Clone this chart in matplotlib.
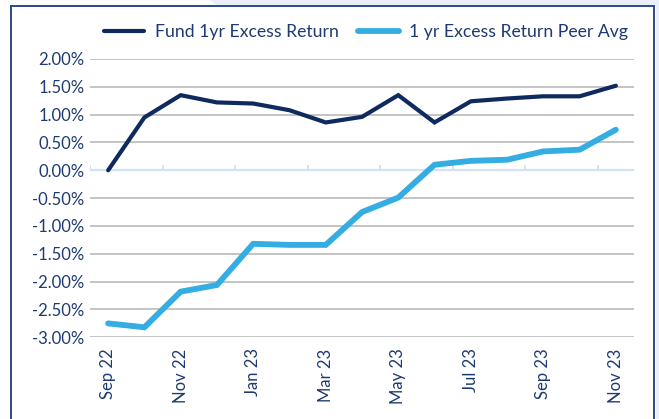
import matplotlib
matplotlib.use("Agg")
import matplotlib.pyplot as plt
from matplotlib.patches import Polygon, Rectangle
import numpy as np

months = ["Sep 22", "Oct 22", "Nov 22", "Dec 22", "Jan 23", "Feb 23", "Mar 23", "Apr 23",
          "May 23", "Jun 23", "Jul 23", "Aug 23", "Sep 23", "Oct 23", "Nov 23"]
fund = [0.00, 0.95, 1.35, 1.22, 1.20, 1.08, 0.86, 0.96, 1.35, 0.86, 1.24, 1.29, 1.33, 1.33, 1.52]
peer = [-2.75, -2.82, -2.18, -2.06, -1.32, -1.34, -1.34, -0.75, -0.49, 0.10, 0.17, 0.19, 0.34, 0.37, 0.73]
yticks = [2.0, 1.5, 1.0, 0.5, 0.0, -0.5, -1.0, -1.5, -2.0, -2.5, -3.0]

navy = "#0f2a5e"
sky = "#34ade3"
txt = "#1f3a73"

plt.rcParams['font.family'] = ['Lato', 'DejaVu Sans']

W, H = 659, 419
fig = plt.figure(figsize=(W / 100, H / 100), dpi=100)

def px(x, y):
    return (x / W, 1 - y / H)

# light band at the top and right edge
band = Polygon([px(210, 0), px(659, 0), px(659, 419), px(656, 419), px(656, 6), px(217, 6)],
               closed=True, transform=fig.transFigure, facecolor="#eaf0f9", edgecolor="none")
fig.patches.append(band)
# outer frame
x0, y0 = px(11, 6)
x1, _ = px(654, 6)
frame = Rectangle((x0, -0.05), x1 - x0, y0 + 0.05, transform=fig.transFigure,
                  facecolor="none", edgecolor="#2c4a86", lw=1.4)
fig.patches.append(frame)

ax = fig.add_axes([90 / W, 1 - 337.3 / H, (634 - 90) / W, (337.3 - 59) / H])
x = np.arange(len(months))

for v in yticks:
    if v == 0:
        continue
    ax.axhline(v, color="#bfbfbf", lw=1.3, zorder=1)
ax.axhline(0, color="#d3e2f4", lw=1.6, zorder=1)
ax.vlines(np.arange(-0.5, len(months) - 1, 2), 0, 0.09, color="#d3e2f4", lw=1.4, zorder=1)

ax.plot(x, fund, color=navy, lw=3.0, label="Fund 1yr Excess Return", zorder=3,
        solid_capstyle="round", solid_joinstyle="miter")
ax.plot(x, peer, color=sky, lw=4.2, label="1 yr Excess Return Peer Avg", zorder=2,
        solid_capstyle="round", solid_joinstyle="miter")

ax.set_xlim(-0.5, len(months) - 0.5)
ax.set_ylim(-3.0, 2.0)
ax.set_yticks(yticks)
ax.set_yticklabels([f"{v:.2f}%" for v in yticks], color=txt, fontsize=12)
ax.set_xticks(x[::2])
ax.set_xticklabels(months[::2], rotation=90, color=txt, fontsize=12)
ax.tick_params(axis="both", length=0, pad=4)
ax.tick_params(axis="x", pad=8)
for s in ax.spines.values():
    s.set_visible(False)

leg = fig.legend(loc="center", bbox_to_anchor=(366 / W, 1 - 32 / H), ncol=2, frameon=False,
                 fontsize=12.7, handlelength=2.27, columnspacing=1.14, handletextpad=0.57,
                 labelcolor=txt)

fig.savefig("out.png", dpi=100)
